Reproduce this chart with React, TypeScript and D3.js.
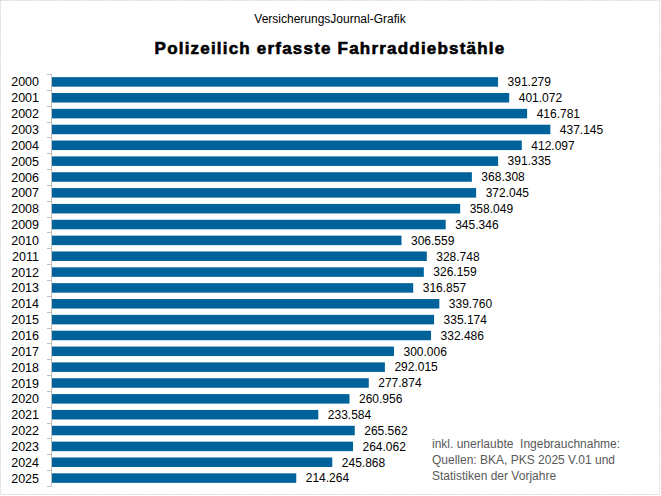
import React from 'react';
import * as d3 from 'd3';

const years = [
  '2000', '2001', '2002', '2003', '2004', '2005', '2006', '2007', '2008', '2009',
  '2010', '2011', '2012', '2013', '2014', '2015', '2016', '2017', '2018', '2019',
  '2020', '2021', '2022', '2023', '2024', '2025'
];

// Fahrraddiebstähle je Jahr (in Tausend)
const thefts = [
  391.279, 401.072, 416.781, 437.145, 412.097, 391.335, 368.308, 372.045, 358.049, 345.346,
  306.559, 328.748, 326.159, 316.857, 339.76, 335.174, 332.486, 300.006, 292.015, 277.874,
  260.956, 233.584, 265.562, 264.062, 245.868, 214.264
];

const noteLines = [
  'inkl. unerlaubte  Ingebrauchnahme:',
  'Quellen: BKA, PKS 2025 V.01 und',
  'Statistiken der Vorjahre'
];

const W = 661;
const H = 496;
const plot = { left: 52, right: 622, top: 74, bottom: 486 };
const barColor = '#00629b';
const font = 'Arial, "Liberation Sans", sans-serif';

const fmt = (v: number) => v.toFixed(3);

export default function App() {
  const x = d3.scaleLinear().domain([0, 500]).range([plot.left, plot.right]);
  const y = d3.scaleBand<string>()
    .domain(years)
    .range([plot.top, plot.bottom])
    .paddingInner(0.4)
    .paddingOuter(0.2);

  const step = y.step();
  const tickYs = d3.range(years.length + 1).map(i => plot.top + i * step);

  return (
    <svg width={W} height={H} style={{ position: 'absolute', left: 0, top: 0, background: '#fff' }}>
      <rect x={0.5} y={0.5} width={W - 2} height={H - 2} fill="#fff" stroke="#d9d9d9" strokeDasharray="2,1" />

      <text x={330} y={23} textAnchor="middle" fontFamily={font} fontSize={12} fill="#000">
        VersicherungsJournal-Grafik
      </text>
      <text x={330} y={54} textAnchor="middle" fontFamily={font} fontSize={17} fontWeight="bold"
        letterSpacing={1.2} stroke="#000" strokeWidth={0.6} fill="#000">
        Polizeilich erfasste Fahrraddiebstähle
      </text>

      {thefts.map((v, i) => {
        const yr = years[i];
        const by = y(yr) as number;
        return (
          <g key={yr}>
            <rect x={x(0)} y={by} width={x(v) - x(0)} height={y.bandwidth()} fill={barColor} />
            <text x={x(v) + 9.5} y={by + y.bandwidth() / 2} dy="0.36em"
              fontFamily={font} fontSize={12} fill="#000">
              {fmt(v)}
            </text>
            <text x={39} y={by + y.bandwidth() / 2} dy="0.36em" textAnchor="end"
              fontFamily={font} fontSize={12.5} fill="#000">
              {yr}
            </text>
          </g>
        );
      })}

      <g stroke="#bfbfbf" strokeWidth={1}>
        <line x1={plot.left - 0.5} x2={plot.left - 0.5} y1={plot.top} y2={plot.bottom} />
        {tickYs.map((ty, i) => (
          <line key={i} x1={plot.left - 5} x2={plot.left - 0.5} y1={Math.round(ty) + 0.5} y2={Math.round(ty) + 0.5} />
        ))}
      </g>

      {noteLines.map((t, i) => (
        <text key={i} x={432} y={448 + i * 16} fontFamily={font} fontSize={12} fill="#595959" xmlSpace="preserve">
          {t}
        </text>
      ))}
    </svg>
  );
}
